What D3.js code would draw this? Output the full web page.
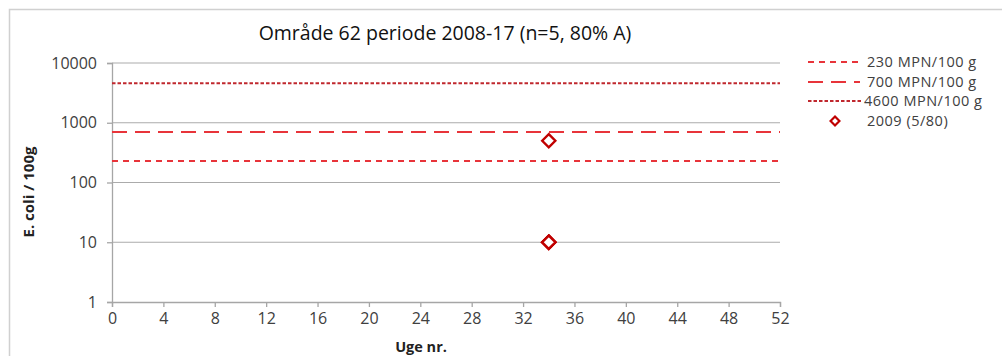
<!DOCTYPE html>
<html><head><meta charset="utf-8">
<script src="https://cdn.jsdelivr.net/npm/d3@7"></script>
<style>body{margin:0;background:#fff}svg{display:block}text{font-family:"Open Sans",sans-serif}</style>
</head><body>
<svg id="c" width="1002" height="356"></svg>
<script>
const title = "Område 62 periode 2008-17 (n=5, 80% A)";
const xTicks = [0,4,8,12,16,20,24,28,32,36,40,44,48,52];
const yTicks = [1,10,100,1000,10000];
const thresholdValues = [230, 700, 4600];
const thresholdLabels = ["230 MPN/100 g", "700 MPN/100 g", "4600 MPN/100 g"];
const pointWeeks = [34, 34, 34, 34, 34];
const pointValues = [500, 10, 10, 10, 10];
const seriesLabel = "2009 (5/80)";

const svg = d3.select("#c");
const L = 112, R = 780, T = 63, B = 302;
const x = d3.scaleLinear().domain([0,52]).range([L,R]);
const y = d3.scaleLog().domain([1,10000]).range([B,T]);

svg.append("rect").attr("x",9.5).attr("y",9.5).attr("width",1010).attr("height",400)
  .attr("fill","#fff").attr("stroke","#d0d0d0").attr("stroke-width",1.5);

svg.append("text").attr("x",445).attr("y",40).attr("text-anchor","middle")
  .attr("font-size",19.5).attr("fill","#111").text(title);

// gridlines
svg.append("g").selectAll("line").data(yTicks.slice(1)).join("line")
  .attr("x1",L).attr("x2",R).attr("y1",d=>y(d)).attr("y2",d=>y(d))
  .attr("stroke","#ababab").attr("stroke-width",1.2);

// axes
const xa = svg.append("g").attr("transform",`translate(0,${B})`)
  .call(d3.axisBottom(x).tickValues(xTicks).tickSize(5).tickPadding(6).tickFormat(d3.format("d")));
const ya = svg.append("g").attr("transform",`translate(${L},0)`)
  .call(d3.axisLeft(y).tickValues(yTicks).tickSize(5).tickPadding(10).tickFormat(d3.format("d")));
[xa,ya].forEach(g=>{
  g.select(".domain").attr("stroke","#a6a6a6").attr("stroke-width",1.3);
  g.selectAll(".tick line").attr("stroke","#a6a6a6").attr("stroke-width",1.3);
  g.selectAll("text").attr("font-family","Open Sans").attr("font-size",16).attr("fill","#404040");
});

// thresholds
const styles = [
  {color:"#e8343a", dash:"6,5", w:2},
  {color:"#e8343a", dash:"15,8", w:2},
  {color:"#c0282e", dash:"3.5,2", w:2}
];
svg.append("g").selectAll("line").data(thresholdValues).join("line")
  .attr("x1",L).attr("x2",R).attr("y1",d=>y(d)).attr("y2",d=>y(d))
  .attr("stroke",(d,i)=>styles[i].color).attr("stroke-dasharray",(d,i)=>styles[i].dash)
  .attr("stroke-width",(d,i)=>styles[i].w);

// points
const diamond = d3.symbol().type(d3.symbolDiamond2).size(110);
svg.append("g").selectAll("path").data(pointValues).join("path")
  .attr("d",diamond)
  .attr("transform",(d,i)=>`translate(${x(pointWeeks[i])},${y(d)})`)
  .attr("fill","#fff").attr("stroke","#c00000").attr("stroke-width",2.4);

// axis titles
svg.append("text").attr("x",421).attr("y",352).attr("text-anchor","middle")
  .attr("font-size",14.5).attr("font-weight","bold").attr("fill","#222").text("Uge nr.");
svg.append("text").attr("transform","translate(34,192) rotate(-90)").attr("text-anchor","middle")
  .attr("font-size",15).attr("font-weight","bold").attr("fill","#222").text("E. coli / 100g");

// legend
const lg = svg.append("g");
const rowsY = [62, 82, 101, 121];
thresholdValues.forEach((v,i)=>{
  lg.append("line").attr("x1",808).attr("x2",i===2?862:860).attr("y1",rowsY[i]).attr("y2",rowsY[i])
    .attr("stroke",styles[i].color).attr("stroke-dasharray",styles[i].dash).attr("stroke-width",styles[i].w);
  lg.append("text").attr("x",i===2?864:867).attr("y",rowsY[i]+5).attr("font-size",14.5)
    .attr("letter-spacing",0.5).attr("fill","#404040").text(thresholdLabels[i]);
});
lg.append("path").attr("d",d3.symbol().type(d3.symbolDiamond2).size(50))
  .attr("transform",`translate(835,${rowsY[3]})`).attr("fill","#fff").attr("stroke","#c00000").attr("stroke-width",2.2);
lg.append("text").attr("x",867).attr("y",rowsY[3]+5).attr("font-size",14.5).attr("letter-spacing",0.5)
  .attr("fill","#404040").text(seriesLabel);
</script>
</body></html>
